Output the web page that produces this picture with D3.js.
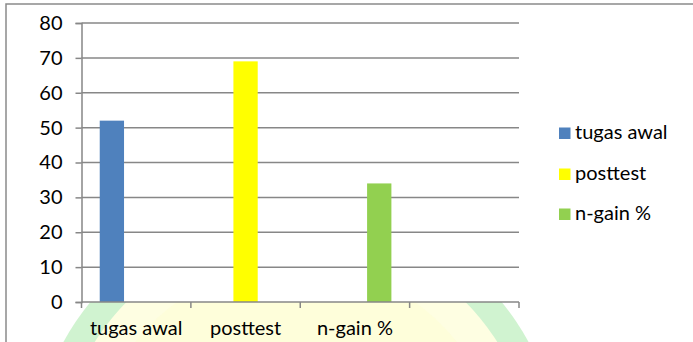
<!DOCTYPE html>
<html>
<head>
<meta charset="utf-8">
<script src="https://cdn.jsdelivr.net/npm/d3@7"></script>
<style>
  html, body { margin: 0; padding: 0; background: #ffffff; }
  svg { display: block; }
  text { font-family: "Lato", "Liberation Sans", sans-serif; fill: #000; }
</style>
</head>
<body>
<svg id="chart" width="693" height="342"></svg>
<script>
// Categories on the x axis (the fourth slot is left empty)
const categories = ["tugas awal", "posttest", "n-gain %", ""];
// One series per category group
const seriesNames = ["tugas awal", "posttest", "n-gain %"];
const seriesColors = ["#4f81bd", "#ffff00", "#92d050"];
const tugasAwal = [52, null, null, null];
const posttest  = [null, 69, null, null];
const nGain     = [null, null, 34, null];
const yTicks = [0, 10, 20, 30, 40, 50, 60, 70, 80];

const seriesValues = [tugasAwal, posttest, nGain];

const svg = d3.select("#chart");
const W = 693, H = 342;
const plot = { left: 81.5, right: 519, top: 23, bottom: 302 };
const fontSize = 20;
const grid = "#878787";

// Background emblem (visible only outside the white plot area)
const emb = svg.append("g");
emb.append("circle").attr("cx", 296).attr("cy", 469).attr("r", 265).attr("fill", "#d0f3d0");
emb.append("circle").attr("cx", 296).attr("cy", 469).attr("r", 238).attr("fill", "#fefee2");
emb.append("circle").attr("cx", 296).attr("cy", 469).attr("r", 205).attr("fill", "#fdfdd6").attr("opacity", 0.6);

// Outer frame
svg.append("path")
  .attr("d", `M6,${H} V4 H${W}`)
  .attr("fill", "none").attr("stroke", "#8a8a8a").attr("stroke-width", 1.5);

// Scales
const x0 = d3.scaleBand().domain(d3.range(categories.length))
  .range([plot.left, plot.right]).paddingInner(0).paddingOuter(0);
const x1 = d3.scaleBand().domain(d3.range(seriesNames.length))
  .range([0, x0.bandwidth()]).paddingInner(0).paddingOuter(0.75);
const y = d3.scaleLinear().domain([0, 80]).range([plot.bottom, plot.top]);

// Plot area fill
svg.append("rect")
  .attr("x", plot.left).attr("y", plot.top)
  .attr("width", plot.right - plot.left).attr("height", plot.bottom - plot.top)
  .attr("fill", "#ffffff");

// Gridlines
svg.append("g").selectAll("line").data(yTicks.filter(d => d > 0)).join("line")
  .attr("x1", plot.left).attr("x2", plot.right)
  .attr("y1", d => y(d)).attr("y2", d => y(d))
  .attr("stroke", grid).attr("stroke-width", 1.5);

// Bars
const groups = svg.append("g").selectAll("g").data(seriesValues).join("g")
  .attr("fill", (d, i) => seriesColors[i]);
groups.each(function(vals, si) {
  d3.select(this).selectAll("rect")
    .data(vals.map((v, ci) => ({ v, ci })).filter(d => d.v != null))
    .join("rect")
    .attr("x", d => x0(d.ci) + x1(si))
    .attr("width", x1.bandwidth())
    .attr("y", d => y(d.v))
    .attr("height", d => y(0) - y(d.v));
});

// Y axis
const yAxis = svg.append("g")
  .attr("transform", `translate(${plot.left},0)`)
  .call(d3.axisLeft(y).tickValues(yTicks).tickSize(6).tickPadding(13).tickFormat(d3.format("d")));
yAxis.select(".domain").attr("stroke", grid).attr("stroke-width", 1.5);
yAxis.selectAll(".tick line").attr("stroke", grid).attr("stroke-width", 1.5);
yAxis.selectAll(".tick text")
  .style("font-family", "Lato, 'Liberation Sans', sans-serif")
  .style("font-size", fontSize + "px").attr("fill", "#000");

// X axis: ticks on category boundaries
const xg = svg.append("g");
xg.append("line")
  .attr("x1", plot.left).attr("x2", plot.right)
  .attr("y1", plot.bottom).attr("y2", plot.bottom)
  .attr("stroke", grid).attr("stroke-width", 1.5);
const bounds = d3.range(categories.length + 1).map(i => i < categories.length ? x0(i) : plot.right);
xg.selectAll("line.tk").data(bounds).join("line").attr("class", "tk")
  .attr("x1", d => d).attr("x2", d => d)
  .attr("y1", plot.bottom).attr("y2", plot.bottom + 6)
  .attr("stroke", grid).attr("stroke-width", 1.5);
xg.selectAll("text").data(categories).join("text")
  .attr("x", (d, i) => x0(i) + x0.bandwidth() / 2)
  .attr("y", 335)
  .attr("text-anchor", "middle")
  .style("font-size", fontSize + "px")
  .text(d => d);

// Legend
const legTop = [127.5, 168.5, 208.5];
const leg = svg.append("g").selectAll("g").data(seriesNames).join("g")
  .attr("transform", (d, i) => `translate(559,${legTop[i]})`);
leg.append("rect").attr("width", 11.5).attr("height", 11.5)
  .attr("fill", (d, i) => seriesColors[i]);
leg.append("text").attr("x", 16).attr("y", 11.5)
  .style("font-size", fontSize + "px").text(d => d);
</script>
</body>
</html>
